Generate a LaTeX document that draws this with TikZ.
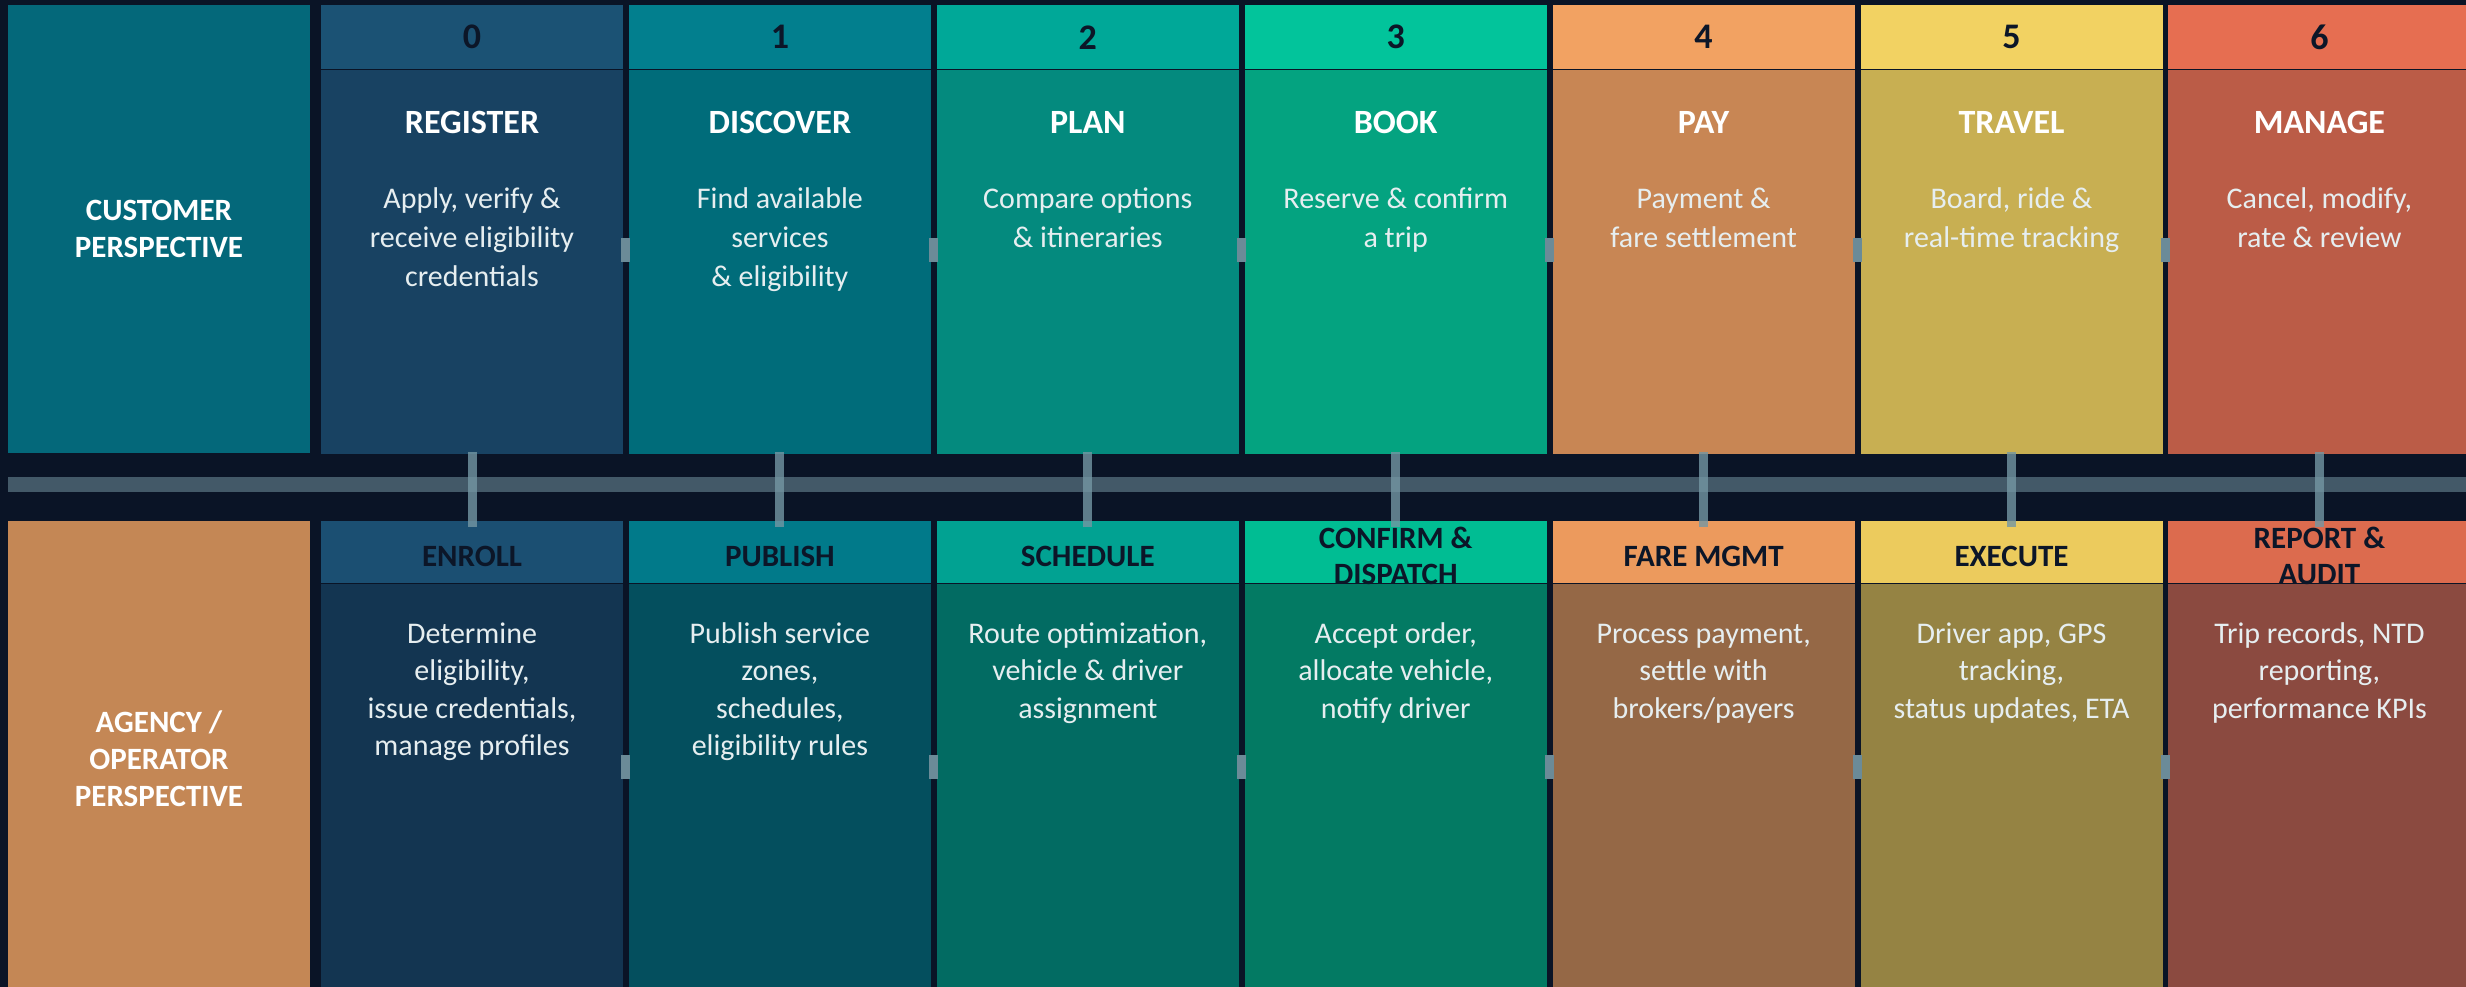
\documentclass[tikz,border=0pt]{standalone}
\usepackage{fontspec}
\setmainfont{Carlito}
\usepackage{xcolor}
\usepackage{tikz}
\usetikzlibrary{positioning}
\tikzset{
    stagenode/.style = {draw=none, rectangle, inner sep = 0pt, minimum width=302pt, anchor=north},
    headnode/.style = {stagenode, minimum height=64pt, text=numtxt, font=\bfseries\fontsize{36}{40}\selectfont},
    bodynode/.style = {stagenode, minimum height=384pt},
    opheadnode/.style = {stagenode, minimum height=62pt},
    opbodynode/.style = {stagenode, minimum height=404pt},
    sidenode/.style = {stagenode},
    sidetextnode/.style = {inner sep = 0pt, text=white, align=center, font=\bfseries\fontsize{31}{37}\selectfont},
    optitlenode/.style = {inner sep = 0pt, text=numtxt, align=center, font=\bfseries\fontsize{31}{36}\selectfont},
    titlenode/.style = {inner sep = 0pt, anchor=base, text=white, font=\bfseries\fontsize{34}{40}\selectfont},
    descnode/.style = {inner sep = 0pt, anchor=north, text=desctxt, align=center, font=\fontsize{30}{39}\selectfont},
    opdescnode/.style = {descnode, font=\fontsize{30}{37.5}\selectfont},
    barnode/.style = {draw=none, rectangle, inner sep = 0pt, fill=barcol, minimum width=2458pt, minimum height=15pt},
    connect/.style = {draw=linkcol, line width=9pt, draw opacity=0.8, shorten <=-2pt, shorten >=-6pt},
    tabline/.style = {draw=tabcol, line width=24pt, shorten <=-1.75pt, shorten >=-1.75pt}
}
\definecolor{bgcol}{HTML}{0A1426}
\definecolor{custcol}{HTML}{04687A}
\definecolor{agencycol}{HTML}{C48755}
\definecolor{numtxt}{HTML}{0C1628}
\definecolor{desctxt}{HTML}{E6EEF0}
\definecolor{barcol}{HTML}{435968}
\definecolor{linkcol}{HTML}{7497A3}
\definecolor{tabcol}{HTML}{6B8B98}
\definecolor{headA}{HTML}{1B5274}
\definecolor{headB}{HTML}{027F8E}
\definecolor{headC}{HTML}{00A898}
\definecolor{headD}{HTML}{02C49B}
\definecolor{headE}{HTML}{F2A262}
\definecolor{headF}{HTML}{F2D262}
\definecolor{headG}{HTML}{E66E51}
\definecolor{bodyA}{HTML}{184262}
\definecolor{bodyB}{HTML}{006C7A}
\definecolor{bodyC}{HTML}{048A7E}
\definecolor{bodyD}{HTML}{04A380}
\definecolor{bodyE}{HTML}{C88654}
\definecolor{bodyF}{HTML}{C8AF52}
\definecolor{bodyG}{HTML}{BB5C47}
\definecolor{opheadA}{HTML}{1B4F72}
\definecolor{opheadB}{HTML}{017A8A}
\definecolor{opheadC}{HTML}{01A292}
\definecolor{opheadD}{HTML}{00BD93}
\definecolor{opheadE}{HTML}{EC9A5D}
\definecolor{opheadF}{HTML}{ECCB5D}
\definecolor{opheadG}{HTML}{DC6B4E}
\definecolor{opbodyA}{HTML}{133551}
\definecolor{opbodyB}{HTML}{044F5E}
\definecolor{opbodyC}{HTML}{026B62}
\definecolor{opbodyD}{HTML}{037A63}
\definecolor{opbodyE}{HTML}{956846}
\definecolor{opbodyF}{HTML}{958343}
\definecolor{opbodyG}{HTML}{8B4A40}

\begin{document}
\begin{tikzpicture}[x=1pt, y=1pt]
\fill[bgcol] (0,0) rectangle (2466,-987);
\useasboundingbox (0,0) rectangle (2466,-987);

\node[sidenode, name=cust, minimum height=448pt, fill=custcol] at (159,-5) {};
\node[sidetextnode, name=custtxt] at (cust.center) {CUSTOMER\\PERSPECTIVE};
\node[sidenode, name=agency, minimum height=466pt, fill=agencycol] at (159,-521) {};
\node[sidetextnode, name=agencytxt] at ([yshift=-5pt]agency.center) {AGENCY /\\OPERATOR\\PERSPECTIVE};

\node[headnode, name=h0, fill=headA] at (472,-5) {0};
\node[bodynode, name=b0, below=0pt of h0, fill=bodyA] {};
\node[headnode, name=h1, right=5.5pt of h0, fill=headB] {1};
\node[bodynode, name=b1, below=0pt of h1, fill=bodyB] {};
\node[headnode, name=h2, right=5.5pt of h1, fill=headC] {2};
\node[bodynode, name=b2, below=0pt of h2, fill=bodyC] {};
\node[headnode, name=h3, right=5.5pt of h2, fill=headD] {3};
\node[bodynode, name=b3, below=0pt of h3, fill=bodyD] {};
\node[headnode, name=h4, right=5.5pt of h3, fill=headE] {4};
\node[bodynode, name=b4, below=0pt of h4, fill=bodyE] {};
\node[headnode, name=h5, right=5.5pt of h4, fill=headF] {5};
\node[bodynode, name=b5, below=0pt of h5, fill=bodyF] {};
\node[headnode, name=h6, right=5.5pt of h5, fill=headG] {6};
\node[bodynode, name=b6, below=0pt of h6, fill=bodyG] {};

\node[titlenode, name=t0] at ([yshift=-64pt]b0.north) {REGISTER};
\node[titlenode, name=t1] at ([yshift=-64pt]b1.north) {DISCOVER};
\node[titlenode, name=t2] at ([yshift=-64pt]b2.north) {PLAN};
\node[titlenode, name=t3] at ([yshift=-64pt]b3.north) {BOOK};
\node[titlenode, name=t4] at ([yshift=-64pt]b4.north) {PAY};
\node[titlenode, name=t5] at ([yshift=-64pt]b5.north) {TRAVEL};
\node[titlenode, name=t6] at ([yshift=-64pt]b6.north) {MANAGE};

\node[descnode, name=d0] at ([yshift=-111.7pt]b0.north) {\strut Apply, verify \&\\receive eligibility\\credentials};
\node[descnode, name=d1] at ([yshift=-111.7pt]b1.north) {\strut Find available\\services\\\& eligibility};
\node[descnode, name=d2] at ([yshift=-111.7pt]b2.north) {\strut Compare options\\\& itineraries};
\node[descnode, name=d3] at ([yshift=-111.7pt]b3.north) {\strut Reserve \& confirm\\a trip};
\node[descnode, name=d4] at ([yshift=-111.7pt]b4.north) {\strut Payment \&\\fare settlement};
\node[descnode, name=d5] at ([yshift=-111.7pt]b5.north) {\strut Board, ride \&\\real-time tracking};
\node[descnode, name=d6] at ([yshift=-111.7pt]b6.north) {\strut Cancel, modify,\\rate \& review};

\node[opheadnode, name=g0, fill=opheadA] at (472,-521) {};
\node[opbodynode, name=k0, below=0pt of g0, fill=opbodyA] {};
\node[opheadnode, name=g1, right=5.5pt of g0, fill=opheadB] {};
\node[opbodynode, name=k1, below=0pt of g1, fill=opbodyB] {};
\node[opheadnode, name=g2, right=5.5pt of g1, fill=opheadC] {};
\node[opbodynode, name=k2, below=0pt of g2, fill=opbodyC] {};
\node[opheadnode, name=g3, right=5.5pt of g2, fill=opheadD] {};
\node[opbodynode, name=k3, below=0pt of g3, fill=opbodyD] {};
\node[opheadnode, name=g4, right=5.5pt of g3, fill=opheadE] {};
\node[opbodynode, name=k4, below=0pt of g4, fill=opbodyE] {};
\node[opheadnode, name=g5, right=5.5pt of g4, fill=opheadF] {};
\node[opbodynode, name=k5, below=0pt of g5, fill=opbodyF] {};
\node[opheadnode, name=g6, right=5.5pt of g5, fill=opheadG] {};
\node[opbodynode, name=k6, below=0pt of g6, fill=opbodyG] {};

\node[optitlenode, name=s0] at ([yshift=-4pt]g0.center) {ENROLL};
\node[optitlenode, name=s1] at ([yshift=-4pt]g1.center) {PUBLISH};
\node[optitlenode, name=s2] at ([yshift=-4pt]g2.center) {SCHEDULE};
\node[optitlenode, name=s3] at ([yshift=-4pt]g3.center) {CONFIRM \&\\DISPATCH};
\node[optitlenode, name=s4] at ([yshift=-4pt]g4.center) {FARE MGMT};
\node[optitlenode, name=s5] at ([yshift=-4pt]g5.center) {EXECUTE};
\node[optitlenode, name=s6] at ([yshift=-4pt]g6.center) {REPORT \&\\AUDIT};

\node[opdescnode, name=e0] at ([yshift=-33.5pt]k0.north) {\strut Determine\\eligibility,\\issue credentials,\\manage profiles};
\node[opdescnode, name=e1] at ([yshift=-33.5pt]k1.north) {\strut Publish service\\zones,\\schedules,\\eligibility rules};
\node[opdescnode, name=e2] at ([yshift=-33.5pt]k2.north) {\strut Route optimization,\\vehicle \& driver\\assignment};
\node[opdescnode, name=e3] at ([yshift=-33.5pt]k3.north) {\strut Accept order,\\allocate vehicle,\\notify driver};
\node[opdescnode, name=e4] at ([yshift=-33.5pt]k4.north) {\strut Process payment,\\settle with\\brokers/payers};
\node[opdescnode, name=e5] at ([yshift=-33.5pt]k5.north) {\strut Driver app, GPS\\tracking,\\status updates, ETA};
\node[opdescnode, name=e6] at ([yshift=-33.5pt]k6.north) {\strut Trip records, NTD\\reporting,\\performance KPIs};

\node[barnode, name=bar] at (1237,-484.5) {};

\draw[connect] (b0) -- (g0);
\draw[connect] (b1) -- (g1);
\draw[connect] (b2) -- (g2);
\draw[connect] (b3) -- (g3);
\draw[connect] (b4) -- (g4);
\draw[connect] (b5) -- (g5);
\draw[connect] (b6) -- (g6);

\draw[tabline] ([yshift=12pt]b0.east) -- ([yshift=12pt]b1.west);
\draw[tabline] ([yshift=12pt]b1.east) -- ([yshift=12pt]b2.west);
\draw[tabline] ([yshift=12pt]b2.east) -- ([yshift=12pt]b3.west);
\draw[tabline] ([yshift=12pt]b3.east) -- ([yshift=12pt]b4.west);
\draw[tabline] ([yshift=12pt]b4.east) -- ([yshift=12pt]b5.west);
\draw[tabline] ([yshift=12pt]b5.east) -- ([yshift=12pt]b6.west);

\draw[tabline] ([yshift=19pt]k0.east) -- ([yshift=19pt]k1.west);
\draw[tabline] ([yshift=19pt]k1.east) -- ([yshift=19pt]k2.west);
\draw[tabline] ([yshift=19pt]k2.east) -- ([yshift=19pt]k3.west);
\draw[tabline] ([yshift=19pt]k3.east) -- ([yshift=19pt]k4.west);
\draw[tabline] ([yshift=19pt]k4.east) -- ([yshift=19pt]k5.west);
\draw[tabline] ([yshift=19pt]k5.east) -- ([yshift=19pt]k6.west);
\end{tikzpicture}
\end{document}
